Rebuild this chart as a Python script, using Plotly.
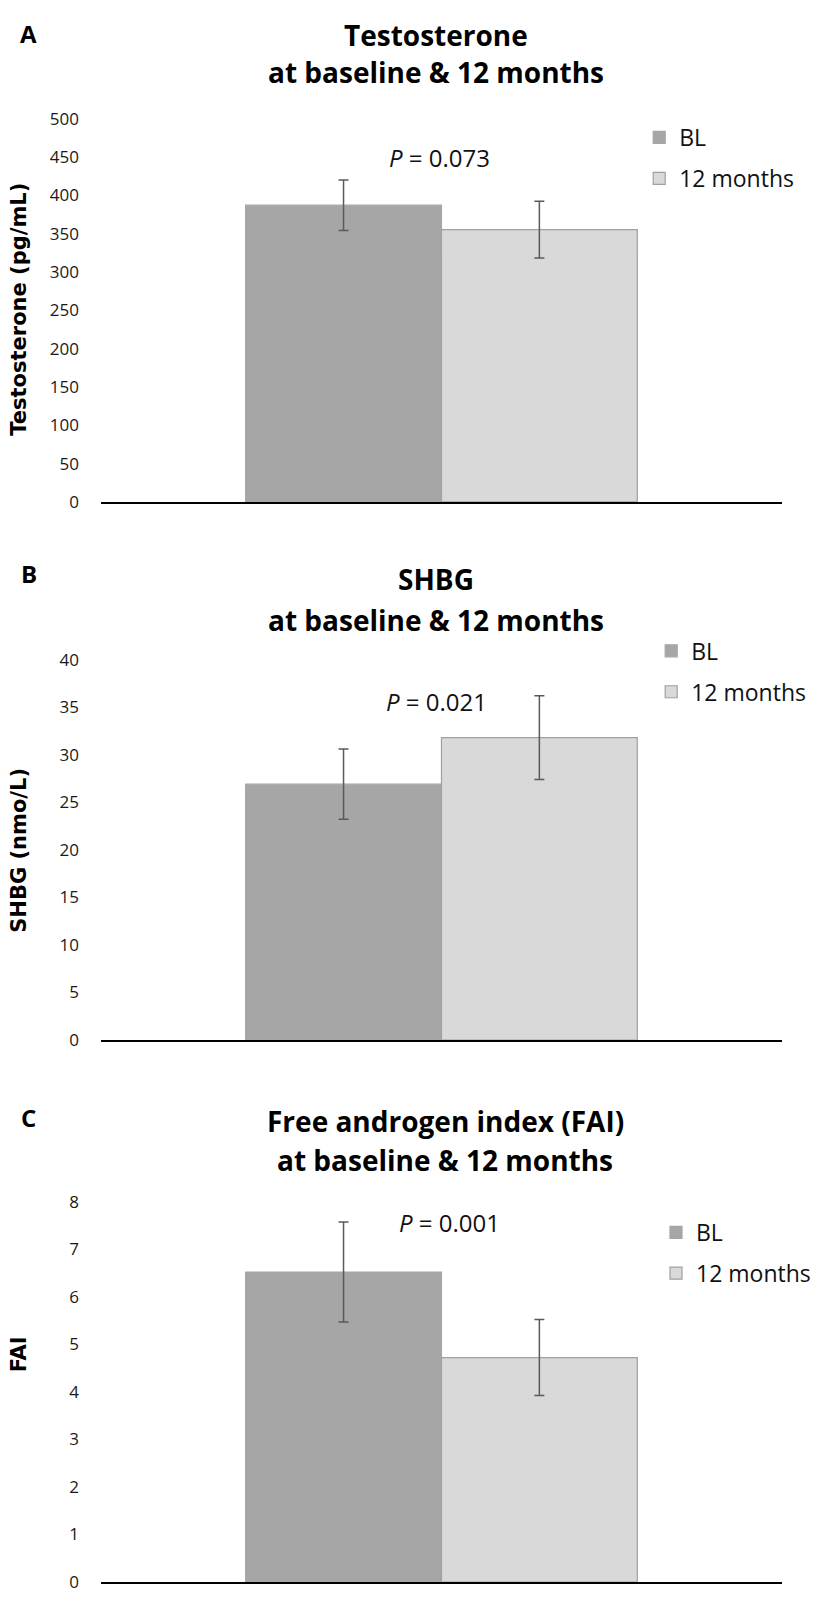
import plotly.graph_objects as go

# page is 824x1602; the HTML body has an 8px margin, so the figure is shrunk
OFF = 8
W, H = 824 - 2 * OFF, 1602 - 2 * OFF

# ---- data ----
groups = ["BL", "12 months"]
category = [""]
testo_mean = [387, 355]
testo_err = [33, 37]
shbg_mean = [26.9, 31.8]
shbg_err = [3.7, 4.4]
fai_mean = [6.52, 4.72]
fai_err = [1.05, 0.8]

panels = [
    dict(letter="A", t1="Testosterone", t2="at baseline & 12 months",
         ylabel="Testosterone (pg/mL)", mean=testo_mean, err=testo_err,
         ymax=500, dtick=50, p="0.073"),
    dict(letter="B", t1="SHBG", t2="at baseline & 12 months",
         ylabel="SHBG (nmo/L)", mean=shbg_mean, err=shbg_err,
         ymax=40, dtick=5, p="0.021"),
    dict(letter="C", t1="Free androgen index (FAI)", t2="at baseline & 12 months",
         ylabel="FAI", mean=fai_mean, err=fai_err,
         ymax=8, dtick=1, p="0.001"),
]

# ---- layout geometry (page pixels) ----
x_left, x_right = 101, 783
plot_px = [(108, 497), (657, 1043), (1207, 1593)]
letter_y = [22, 570, 1122]
title_y = [(23, 61), (575, 617), (1125, 1165)]
title_x = [437, 437, 446]
p_y = [148, 700, 1228]
p_x = [440, 437, 450]
ylab_y = [301, 850, 1362]
legend_left = [640, 652, 657]
legend_mid = [148, 669, 1259]

colors = ["#a6a6a6", "#d9d9d9"]
line_colors = ["#a6a6a6", "#a0a0a0"]

def fx(px):
    return (px - OFF) / W

def fy(px):
    return 1 - (px - OFF) / H

fig = go.Figure()
annotations = []
layout_kw = {}

for i, pn in enumerate(panels):
    n = "" if i == 0 else str(i + 1)
    xa = "x" + n
    ya = "y" + n
    leg = "legend" + n
    for g, name in enumerate(groups):
        fig.add_trace(go.Bar(
            x=category, y=[pn["mean"][g]], name=name,
            xaxis=xa, yaxis=ya, legend=leg, legendgroup=f"{i}{g}",
            marker=dict(color=colors[g], line=dict(color=line_colors[g], width=1.2)),
            error_y=dict(type="data", array=[pn["err"][g]], visible=True,
                         color="#595959", thickness=1.5, width=5),
            offsetgroup=str(g),
        ))
    top, bot = plot_px[i]
    layout_kw["xaxis" + n] = dict(
        domain=[fx(x_left), fx(x_right)], anchor=ya, range=[-0.5, 0.5],
        showline=True, linecolor="#000000", linewidth=2,
        showticklabels=False, ticks="", showgrid=False, zeroline=False,
        fixedrange=True,
    )
    layout_kw["yaxis" + n] = dict(
        domain=[fy(bot), fy(top)], anchor=xa, range=[0, pn["ymax"]],
        dtick=pn["dtick"], tick0=0, showgrid=False, zeroline=False,
        showline=False, ticks="", ticklabelstandoff=21,
        tickfont=dict(family="Open Sans", size=17, color="#1a1a1a"),
    )
    layout_kw[leg] = dict(
        x=fx(legend_left[i]), y=fy(legend_mid[i]), xanchor="left", yanchor="middle",
        font=dict(family="Open Sans", size=23, color="#111111"),
        bgcolor="rgba(0,0,0,0)", tracegroupgap=8, traceorder="grouped",
    )
    common = dict(xref="paper", yref="paper", showarrow=False,
                  xanchor="center", yanchor="middle")
    annotations += [
        dict(text=f"<b>{pn['letter']}</b>", x=fx(29), y=fy(letter_y[i]),
             font=dict(family="Open Sans", size=24, color="#000"), **common),
        dict(text=f"<b>{pn['t1']}</b>", x=fx(title_x[i]), y=fy(title_y[i][0]),
             font=dict(family="Open Sans", size=28, color="#000"), **common),
        dict(text=f"<b>{pn['t2']}</b>", x=fx(title_x[i]), y=fy(title_y[i][1]),
             font=dict(family="Open Sans", size=28, color="#000"), **common),
        dict(text=f"<i>P</i> = {pn['p']}", x=fx(p_x[i]), y=fy(p_y[i]),
             font=dict(family="Open Sans", size=24, color="#111"), **common),
        dict(text=f"<b>{pn['ylabel']}</b>", x=fx(19), y=fy(ylab_y[i]),
             textangle=-90,
             font=dict(family="DejaVu Sans", size=21, color="#000"), **common),
    ]

fig.update_layout(
    width=W, height=H, margin=dict(l=0, r=0, t=0, b=0),
    paper_bgcolor="white", plot_bgcolor="white",
    barmode="group", bargap=0.425, bargroupgap=0,
    showlegend=True, annotations=annotations, **layout_kw,
)

fig.write_html("out.html")
